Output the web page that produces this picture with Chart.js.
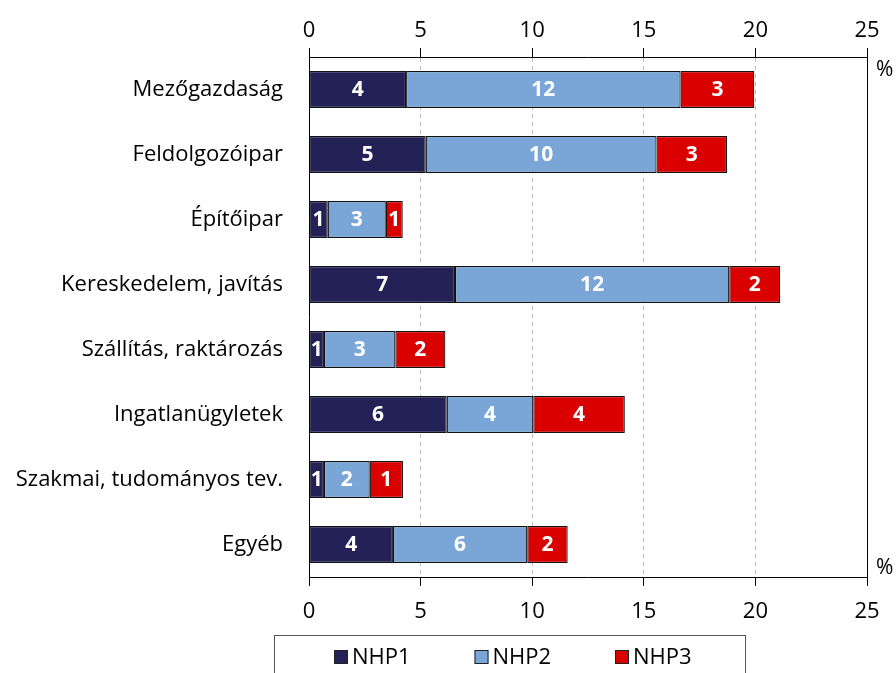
<!DOCTYPE html>
<html>
<head>
<meta charset="utf-8">
<script src="https://cdn.jsdelivr.net/npm/chart.js@4"></script>
<style>
  body { margin: 0; background: #fff; }
  canvas { display: block; }
</style>
</head>
<body>
<canvas id="myChart" width="896" height="673"></canvas>
<script>
// ágazatok
var categories = ['Mezőgazdaság', 'Feldolgozóipar', 'Építőipar', 'Kereskedelem, javítás',
                  'Szállítás, raktározás', 'Ingatlanügyletek', 'Szakmai, tudományos tev.', 'Egyéb'];
var nhp1 = [4.35, 5.23, 0.84, 6.54, 0.67, 6.17, 0.67, 3.76];
var nhp2 = [12.3, 10.34, 2.6, 12.29, 3.2, 3.88, 2.05, 6.02];
var nhp3 = [3.3, 3.16, 0.76, 2.28, 2.24, 4.1, 1.49, 1.81];
var seriesNames = ['NHP1', 'NHP2', 'NHP3'];
var seriesColors = ['#242157', '#79A6D6', '#DB0000'];
var tickValues = [0, 5, 10, 15, 20, 25];

var FONT = "'Open Sans', sans-serif";

// feliratok a sávokon, keret, % jel, jelmagyarázat
var extras = {
    id: 'extras',
    afterDatasetsDraw: function(chart) {
        var ctx = chart.ctx;
        ctx.save();
        ctx.fillStyle = '#fff';
        ctx.font = 'bold 21px ' + FONT;
        ctx.textAlign = 'center';
        ctx.textBaseline = 'middle';
        chart.data.datasets.forEach(function(ds, i) {
            var meta = chart.getDatasetMeta(i);
            meta.data.forEach(function(bar, j) {
                var cx = (bar.x + bar.base) / 2;
                ctx.fillText(String(Math.round(ds.data[j])), cx, bar.y + 1);
            });
        });
        ctx.restore();
    },
    afterDraw: function(chart) {
        var ctx = chart.ctx;
        var a = chart.chartArea;
        ctx.save();
        // jobb oldali keret
        ctx.strokeStyle = '#000';
        ctx.lineWidth = 1;
        ctx.beginPath();
        ctx.moveTo(Math.round(a.right) + 0.5, a.top - 9);
        ctx.lineTo(Math.round(a.right) + 0.5, a.bottom + 9);
        ctx.stroke();

        ctx.fillStyle = '#000';
        ctx.font = '21px ' + FONT;
        ctx.textAlign = 'left';
        ctx.textBaseline = 'middle';
        ctx.fillText('%', a.right + 9, a.top + 13);
        ctx.fillText('%', a.right + 9, a.bottom - 9);

        // jelmagyarázat
        ctx.strokeStyle = '#555';
        ctx.strokeRect(274.5, 635.5, 471, 60);
        ctx.font = '22px ' + FONT;
        chart.data.datasets.forEach(function(ds, i) {
            var x = 334 + i * 140.5;
            ctx.fillStyle = ds.backgroundColor;
            ctx.fillRect(x, 650, 14, 14);
            ctx.strokeStyle = '#222';
            ctx.strokeRect(x + 0.5, 650.5, 13, 13);
            ctx.fillStyle = '#000';
            ctx.fillText(ds.label, x + 18, 658);
        });
        ctx.restore();
    }
};

var datasets = [nhp1, nhp2, nhp3].map(function(vals, i) {
    return {
        label: seriesNames[i],
        data: vals,
        backgroundColor: seriesColors[i],
        borderColor: '#111',
        borderWidth: 1.2,
        borderSkipped: false,
        barPercentage: 0.57,
        categoryPercentage: 1.0
    };
});

var myChart = new Chart(document.getElementById('myChart').getContext('2d'), {
    type: 'bar',
    data: { labels: categories, datasets: datasets },
    plugins: [extras],
    options: {
        responsive: false,
        animation: false,
        indexAxis: 'y',
        layout: { padding: { left: 0, right: 29, top: 0, bottom: 46 } },
        plugins: {
            legend: { display: false },
            tooltip: { enabled: false }
        },
        scales: {
            x: {
                type: 'linear',
                position: 'top',
                stacked: true,
                min: 0,
                max: 25,
                afterBuildTicks: function(s) { s.ticks = tickValues.map(function(v) { return { value: v }; }); },
                afterFit: function(s) { s.height = 57; },
                ticks: { color: '#000', font: { family: FONT, size: 22 }, padding: 4 },
                grid: {
                    color: function(c) { return (c.tick && (c.tick.value === 0 || c.tick.value === 25)) ? 'rgba(0,0,0,0)' : '#BFBFBF'; },
                    tickColor: '#000',
                    tickLength: 9
                },
                border: { color: '#000', width: 1, dash: [4, 4] }
            },
            x2: {
                type: 'linear',
                position: 'bottom',
                min: 0,
                max: 25,
                afterBuildTicks: function(s) { s.ticks = tickValues.map(function(v) { return { value: v }; }); },
                afterFit: function(s) { s.height = 50; },
                ticks: { color: '#000', font: { family: FONT, size: 22 }, padding: 13 },
                grid: { drawOnChartArea: false, tickColor: '#000', tickLength: 9 },
                border: { color: '#000', width: 1 }
            },
            y: {
                type: 'category',
                stacked: true,
                afterFit: function(s) { s.width = 309; },
                ticks: { color: '#000', font: { family: FONT, size: 22 }, padding: 26 },
                grid: { display: false, drawTicks: false },
                border: { color: '#000', width: 1 }
            }
        }
    }
});
</script>
</body>
</html>
